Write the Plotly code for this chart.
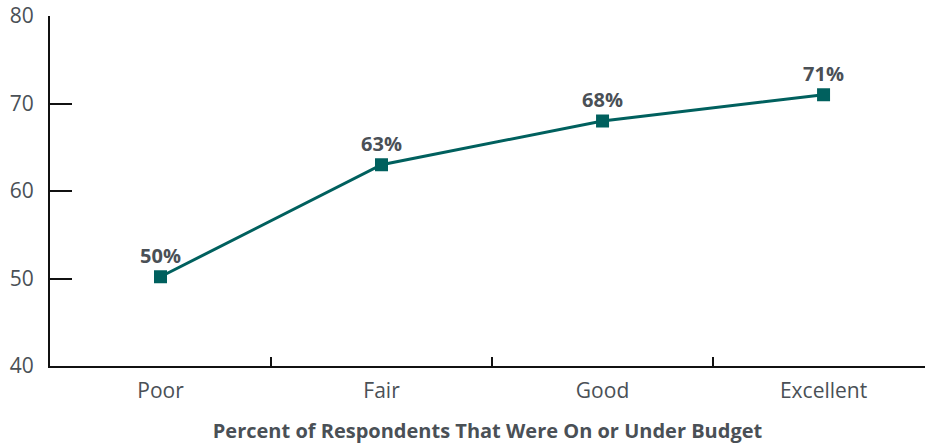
import plotly.graph_objects as go

categories = ["Poor", "Fair", "Good", "Excellent"]
values = [50.2, 63, 68, 71]
labels = ["50%", "63%", "68%", "71%"]
y_ticks = [40, 50, 60, 70, 80]
x_title = "Percent of Respondents That Were On or Under Budget"

teal = "#00605e"
grey = "#4a5056"
font = "Open Sans"

fig = go.Figure()
fig.add_trace(go.Scatter(
    x=categories, y=values, mode="lines+markers+text",
    line=dict(color=teal, width=3),
    marker=dict(symbol="square", size=13, color=teal),
    text=labels, textposition="top center",
    textfont=dict(family=font, size=20, color=grey, weight="bold"),
    cliponaxis=False, showlegend=False,
))

fig.update_layout(
    width=925, height=444,
    margin=dict(l=50, r=0, t=16, b=78),
    paper_bgcolor="white", plot_bgcolor="white",
    font=dict(family=font, color=grey, size=21),
)
fig.update_xaxes(
    type="category", range=[-0.5, 3.459], automargin=False,
    showline=True, linecolor="#111", linewidth=2,
    ticks="inside", tickson="boundaries", ticklen=9, tickwidth=2, tickcolor="#111",
    showgrid=False, zeroline=False,
    tickfont=dict(family=font, size=21, color=grey),
    ticklabelstandoff=5,
    title=dict(text=x_title, font=dict(family=font, size=20, color=grey, weight="bold"), standoff=24),
)
fig.update_yaxes(
    range=[40, 80], tickvals=y_ticks, automargin=False,
    showline=True, linecolor="#111", linewidth=2,
    ticks="inside", ticklen=22, tickwidth=2, tickcolor="#111",
    showgrid=False, zeroline=False,
    tickfont=dict(family=font, size=21, color=grey),
    ticklabelstandoff=10,
)
fig.write_html("out.html", config={"displayModeBar": False},
               post_script="document.body.style.margin='0';")
